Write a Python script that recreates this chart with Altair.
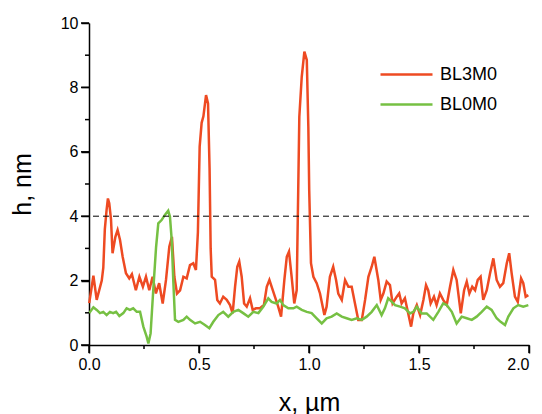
import pandas as pd
import altair as alt

# BL3M0 profile (red)
red_x = [0.001, 0.020, 0.035, 0.058, 0.065, 0.072, 0.080, 0.086, 0.092, 0.100, 0.107,
         0.120, 0.130, 0.141, 0.153, 0.168, 0.183, 0.195, 0.213, 0.229, 0.245, 0.259,
         0.274, 0.289, 0.304, 0.319, 0.335, 0.350, 0.365, 0.377, 0.388, 0.400, 0.414,
         0.429, 0.444, 0.459, 0.474, 0.486, 0.495, 0.503, 0.512, 0.520, 0.532, 0.541,
         0.548, 0.553, 0.558, 0.573, 0.583, 0.595, 0.610, 0.626, 0.641, 0.653, 0.664,
         0.674, 0.683, 0.694, 0.705, 0.717, 0.732, 0.744, 0.759, 0.777, 0.795, 0.808,
         0.820, 0.830, 0.845, 0.860, 0.873, 0.888, 0.899, 0.909, 0.921, 0.933, 0.944,
         0.951, 0.956, 0.967, 0.979, 0.990, 0.997, 1.001, 1.009, 1.020, 1.035, 1.050,
         1.070, 1.080, 1.095, 1.110, 1.123, 1.133, 1.149, 1.164, 1.179, 1.194, 1.209,
         1.224, 1.240, 1.255, 1.270, 1.285, 1.297, 1.315, 1.326, 1.338, 1.353, 1.368,
         1.380, 1.399, 1.410, 1.421, 1.436, 1.451, 1.464, 1.474, 1.490, 1.505, 1.520,
         1.532, 1.542, 1.553, 1.568, 1.580, 1.595, 1.610, 1.626, 1.641, 1.656, 1.671,
         1.690, 1.705, 1.717, 1.729, 1.742, 1.755, 1.767, 1.780, 1.792, 1.808, 1.823,
         1.838, 1.853, 1.868, 1.883, 1.899, 1.910, 1.921, 1.936, 1.949, 1.964, 1.974,
         1.985, 1.997]
red_y = [1.30, 2.15, 1.40, 2.00, 2.40, 3.60, 4.20, 4.55, 4.40, 3.90, 2.85,
         3.36, 3.57, 3.26, 2.74, 2.23, 2.07, 2.20, 1.70, 2.12, 1.81, 2.12,
         1.70, 2.12, 1.60, 1.92, 1.29, 2.02, 3.05, 3.36, 2.12, 1.60, 1.70,
         2.12, 2.07, 2.48, 2.54, 2.33, 3.50, 6.16, 6.90, 7.10, 7.76, 7.50,
         5.50, 3.00, 2.12, 2.02, 1.40, 1.29, 1.50, 1.40, 1.24, 0.98, 1.81,
         2.43, 2.59, 2.12, 1.29, 1.19, 1.45, 1.09, 1.14, 1.14, 1.24, 1.81,
         2.02, 1.81, 1.50, 1.19, 0.88, 2.02, 2.74, 2.90, 2.12, 1.29, 1.70,
         4.80, 7.09, 8.33, 9.11, 8.85, 6.78, 4.80, 2.54, 2.12, 1.92, 1.60,
         0.93, 1.19, 2.12, 2.43, 2.02, 1.60, 1.40, 2.02, 1.81, 1.81, 1.29,
         0.78, 0.78, 1.40, 2.12, 2.43, 2.74, 2.02, 1.40, 1.60, 1.97, 1.86,
         1.29, 1.50, 1.60, 1.29, 1.45, 0.98, 0.57, 0.98, 1.24, 0.93, 1.40,
         1.86, 1.70, 1.29, 1.50, 1.24, 1.60, 1.40, 1.24, 1.81, 2.33, 2.02,
         0.98, 1.70, 1.97, 1.60, 1.81, 1.70, 2.02, 2.12, 1.40, 1.70, 2.23,
         2.69, 2.02, 1.81, 1.92, 2.54, 2.85, 2.23, 1.50, 1.34, 2.07, 1.92,
         1.50, 1.55]

# BL0M0 profile (green)
green_x = [0.001, 0.020, 0.035, 0.050, 0.065, 0.080, 0.095, 0.110, 0.123, 0.138, 0.156,
           0.171, 0.186, 0.201, 0.217, 0.232, 0.247, 0.262, 0.270, 0.280, 0.292, 0.305,
           0.315, 0.330, 0.345, 0.360, 0.368, 0.376, 0.383, 0.391, 0.406, 0.429, 0.444,
           0.459, 0.482, 0.505, 0.527, 0.547, 0.565, 0.588, 0.610, 0.633, 0.656, 0.679,
           0.701, 0.724, 0.747, 0.770, 0.792, 0.815, 0.830, 0.853, 0.868, 0.883, 0.906,
           0.929, 0.944, 0.967, 0.990, 1.012, 1.035, 1.058, 1.080, 1.103, 1.126, 1.149,
           1.171, 1.194, 1.217, 1.240, 1.262, 1.285, 1.308, 1.330, 1.345, 1.360, 1.368,
           1.391, 1.414, 1.436, 1.459, 1.474, 1.490, 1.512, 1.535, 1.565, 1.588, 1.610,
           1.626, 1.649, 1.671, 1.694, 1.717, 1.740, 1.762, 1.785, 1.808, 1.830, 1.853,
           1.871, 1.891, 1.906, 1.929, 1.951, 1.974, 1.997]
green_y = [0.99, 1.17, 1.09, 0.99, 1.03, 0.93, 1.03, 0.99, 1.03, 0.90, 0.99,
           1.14, 1.09, 1.14, 1.03, 1.03, 0.57, 0.26, 0.05, 0.36, 1.70, 3.05,
           3.78, 3.88, 4.04, 4.17, 3.98, 3.26, 2.02, 0.78, 0.72, 0.78, 0.88,
           0.78, 0.67, 0.72, 0.62, 0.52, 0.72, 0.93, 1.03, 0.88, 1.03, 1.09,
           0.99, 0.88, 1.03, 0.99, 1.19, 1.45, 1.34, 1.29, 1.40, 1.24, 1.14,
           1.14, 1.19, 1.09, 1.03, 0.99, 0.83, 0.67, 0.83, 0.88, 0.98, 0.88,
           0.83, 0.78, 0.83, 0.78, 0.88, 1.03, 1.24, 0.93, 1.14, 1.45, 1.40,
           1.24, 1.19, 1.14, 0.98, 1.03, 1.19, 0.98, 0.98, 0.78, 1.03, 1.29,
           1.24, 1.03, 0.67, 0.88, 0.83, 0.78, 0.88, 1.03, 1.19, 1.09, 0.83,
           0.72, 0.62, 0.88, 1.14, 1.24, 1.19, 1.24]

series = ['BL3M0', 'BL0M0']
colors = ['#EE4A22', '#76C043']
threshold = [4]

x_major = [0, 0.5, 1.0, 1.5, 2.0]
x_minor = [0.25, 0.75, 1.25, 1.75]
y_major = [0, 2, 4, 6, 8, 10]
y_minor = [1, 3, 5, 7, 9]

W, H = 440, 322

df = pd.concat([
    pd.DataFrame({'x': red_x, 'h': red_y, 'sample': series[0], 'order': range(len(red_x))}),
    pd.DataFrame({'x': green_x, 'h': green_y, 'sample': series[1], 'order': range(len(green_x))}),
])

font = 'Liberation Sans'

x_scale = alt.Scale(domain=[0, 2])
y_scale = alt.Scale(domain=[0, 10])
x_axis = alt.Axis(values=x_major, format='.1f', tickSize=8, labelFlush=False,
                  labelAlign={'condition': {'test': 'datum.value >= 2', 'value': 'right'},
                              'value': 'center'},
                  title='x, µm', titlePadding=18)
y_axis = alt.Axis(values=y_major, tickSize=8, labelFlush=False,
                  title='h, nm', titlePadding=25)

lines = alt.Chart(df).mark_line(strokeWidth=2.5).encode(
    x=alt.X('x:Q', scale=x_scale, axis=x_axis),
    y=alt.Y('h:Q', scale=y_scale, axis=y_axis),
    color=alt.Color('sample:N', scale=alt.Scale(domain=series, range=colors),
                    sort=series,
                    legend=alt.Legend(title=None, orient='none', legendX=303, legendY=37,
                                      symbolType='M-2,0H2', symbolSize=676,
                                      symbolStrokeWidth=2.5, labelFontSize=18,
                                      labelFont=font, labelOffset=19, rowPadding=6)),
    order='order:Q',
)

dashed = alt.Chart(pd.DataFrame({'h': threshold})).mark_rule(
    color='black', strokeWidth=1, strokeDash=[6, 4]
).encode(y=alt.Y('h:Q', scale=y_scale, axis=y_axis))

# axis tick marks (major long, minor short)
def x_ticks(vals, size):
    return alt.Chart(pd.DataFrame({'x': vals})).mark_rule(color='black', strokeWidth=1.5).encode(
        x=alt.X('x:Q', scale=x_scale, axis=x_axis), y=alt.value(H), y2=alt.value(H + size))

def y_ticks(vals, size):
    return alt.Chart(pd.DataFrame({'h': vals})).mark_rule(color='black', strokeWidth=1.5).encode(
        y=alt.Y('h:Q', scale=y_scale, axis=y_axis), x=alt.value(-size), x2=alt.value(0))

ticks = x_ticks(x_major, 8) + x_ticks(x_minor, 4) + y_ticks(y_major, 8) + y_ticks(y_minor, 4)

chart = (lines + dashed + ticks).properties(
    width=W, height=H,
    autosize=alt.AutoSizeParams(type='none'),
    padding={'left': 81, 'top': 15, 'right': 5, 'bottom': 69},
).configure_view(stroke=None).configure_axis(
    grid=False, domainColor='black', tickColor='black', labelColor='black',
    titleColor='black', labelFont=font, titleFont=font, labelFontSize=16,
    titleFontSize=25, titleFontWeight='normal', labelPadding=3,
    domainWidth=1.5, tickWidth=1.5,
)

chart.save('out.html', embed_options={'renderer': 'svg', 'actions': False})
